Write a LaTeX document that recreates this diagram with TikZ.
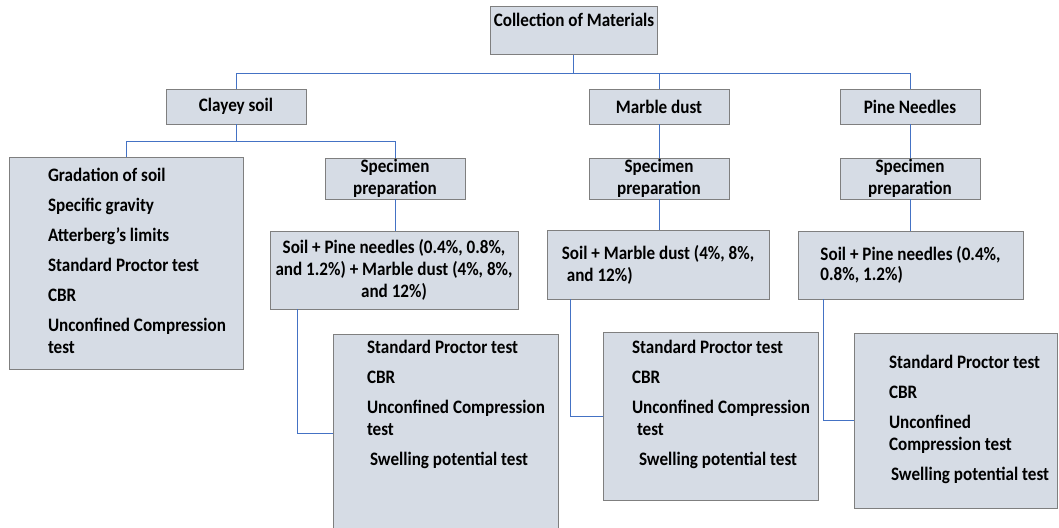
\documentclass[tikz,border=0pt]{standalone}
\usepackage{fontspec}
\setmainfont{Carlito}[FakeStretch=0.9]
\definecolor{boxfill}{HTML}{D6DCE5}
\definecolor{boxline}{HTML}{7F7F7F}
\definecolor{connc}{HTML}{4472C4}
\newcommand\mkbox[6]{\node[box, minimum width={#4-#2}, minimum height={#5-#3}] (#1) at (#2,#3) {#6};}
\begin{document}
\begin{tikzpicture}[x=1pt,y=-1pt,
  box/.style={draw=boxline, fill=boxfill, line width=1pt, rectangle, inner sep=0pt, outer sep=0pt,
    anchor=north west, align=center, font=\bfseries\fontsize{19}{22}\selectfont},
  lst/.style={inner sep=0pt, outer sep=0pt, align=left, anchor=north west,
    font=\bfseries\fontsize{19}{22}\selectfont},
  lbl/.style={inner sep=0pt, outer sep=0pt, font=\bfseries\fontsize{19}{22}\selectfont},
  conn/.style={draw=connc, line width=1pt}]
\useasboundingbox (0,0) rectangle (1059,527);

% top level
\mkbox{coll}{490}{7}{657}{55}{}
\node[lbl] (colltxt) at (574,20) {Collection of Materials};
\mkbox{clay}{166}{89}{306}{124}{Clayey soil}
\mkbox{marble}{589}{89}{729}{124}{Marble dust}
\mkbox{pine}{840}{89}{980}{124}{Pine Needles}

% second level
\mkbox{tests0}{9}{157}{243}{369}{}
\node[lst] (tests0txt) at (48,166) {\strut Gradation of soil\\[8pt]
  Specific gravity\\[8pt]
  Atterberg’s limits\\[8pt]
  Standard Proctor test\\[8pt]
  CBR\\[8pt]
  Unconfined Compression\\
  test};
\mkbox{spec1}{325}{158}{465}{199}{Specimen\\preparation}
\mkbox{spec2}{589}{158}{729}{199}{Specimen\\preparation}
\mkbox{spec3}{840}{158}{980}{199}{Specimen\\preparation}

% mixes
\mkbox{mix1}{270}{231}{518}{309}{Soil + Pine needles (0.4\%, 0.8\%,\\and 1.2\%) + Marble dust (4\%, 8\%,\\and 12\%)}
\node[box, align=left, minimum width=222, minimum height=69] (mix2) at (547,230) {Soil + Marble dust (4\%, 8\%,\\\hspace{5pt}and 12\%)};
\node[box, align=left, minimum width=225, minimum height=68,
  font=\bfseries\fontsize{19}{20}\selectfont] (mix3) at (798,231) {Soil + Pine needles (0.4\%,\\0.8\%, 1.2\%)};

% test boxes
\mkbox{test1}{333}{334}{558}{532}{}
\node[lst] (test1txt) at (367,338) {\strut Standard Proctor test\\[8pt]
  CBR\\[8pt]
  Unconfined Compression\\
  test\\[8pt]
  \hspace{3pt}Swelling potential test};
\mkbox{test2}{603}{332}{818}{500}{}
\node[lst] (test2txt) at (632,338) {\strut Standard Proctor test\\[8pt]
  CBR\\[8pt]
  Unconfined Compression\\
  \hspace{5pt}test\\[8pt]
  \hspace{7pt}Swelling potential test};
\mkbox{test3}{854}{333}{1057}{508}{}
\node[lst] (test3txt) at (889,353) {\strut Standard Proctor test\\[8pt]
  CBR\\[8pt]
  Unconfined\\
  Compression test\\[8pt]
  \hspace{2pt}Swelling potential test};

% connectors
\coordinate (busA) at (0,73);
\coordinate (busB) at (0,141);
\draw[conn] (coll.south) -- (coll.south |- busA) -| (clay.north);
\draw[conn] (coll.south |- busA) -| (marble.north);
\draw[conn] (coll.south |- busA) -| (pine.north);
\draw[conn] (clay.south) -- (clay.south |- busB) -| (tests0.north);
\draw[conn] (clay.south |- busB) -| (spec1.north);
\draw[conn] (marble.south) -- (spec2.north);
\draw[conn] (pine.south) -- (spec3.north);
\draw[conn] (spec1.south) -- (spec1.south |- mix1.north);
\draw[conn] (spec2.south) -- (spec2.south |- mix2.north);
\draw[conn] (spec3.south) -- (spec3.south |- mix3.north);
\draw[conn] ([xshift=27pt]mix1.south west) |- (test1.west);
\draw[conn] ([xshift=23pt]mix2.south west) |- (test2.west);
\draw[conn] ([xshift=25pt]mix3.south west) |- (test3.west);
\end{tikzpicture}
\end{document}
